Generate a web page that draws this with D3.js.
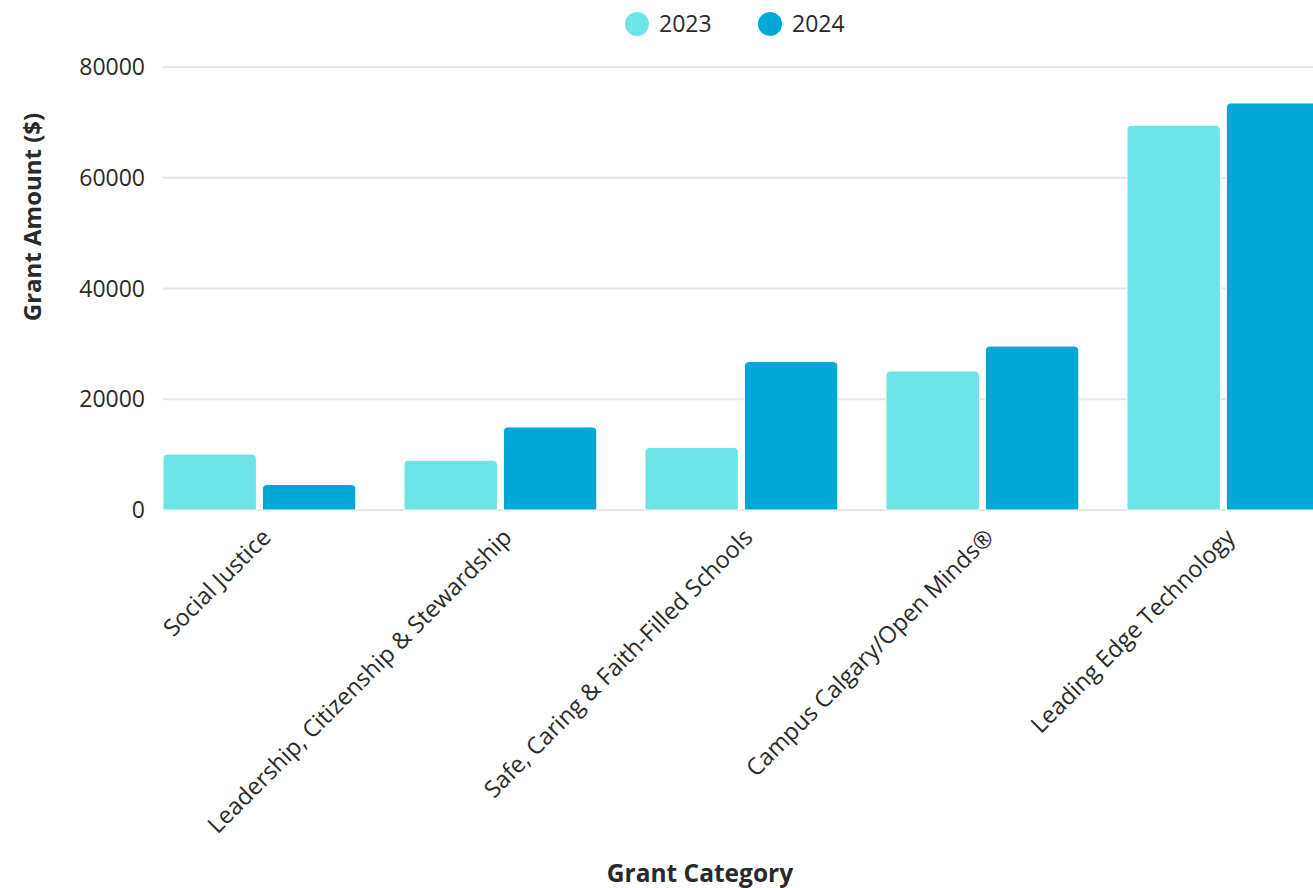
<!DOCTYPE html>
<html><head><meta charset="utf-8">
<script src="https://cdn.jsdelivr.net/npm/d3@7/dist/d3.min.js"></script>
<style>
html,body{margin:0;padding:0;background:#fff;}
svg{display:block;font-family:"Open Sans",sans-serif;}
</style></head>
<body><svg id="chart" width="1313" height="888"></svg>
<script>
const categories = ["Social Justice","Leadership, Citizenship & Stewardship","Safe, Caring & Faith-Filled Schools","Campus Calgary/Open Minds®","Leading Edge Technology"];
const seriesNames = ["2023","2024"];
const values2023 = [10100, 9000, 11300, 25100, 69500];
const values2024 = [4600, 15000, 26800, 29600, 73500];
const yTicks = [0, 20000, 40000, 60000, 80000];
const colors = ["#6de5e6", "#00a8d6"];

const svg = d3.select("#chart");
const left = 163, baseY = 510, topY = 67;
const x0 = d3.scaleBand().domain(categories).range([left, left + 241*4.8]).paddingInner(0.2).paddingOuter(0);
const x1 = d3.scaleBand().domain(seriesNames).range([0, x0.bandwidth()]).paddingInner(0.06);
const y = d3.scaleLinear().domain([0, 80000]).range([baseY, topY]);
const textColor = "#2a2a2a";

// gridlines
svg.append("g").selectAll("line").data(yTicks).join("line")
  .attr("x1", left).attr("x2", 1313)
  .attr("y1", d => y(d)).attr("y2", d => y(d))
  .attr("stroke", "#e6e6e6").attr("stroke-width", 2);

// y tick labels
svg.append("g").selectAll("text").data(yTicks).join("text")
  .attr("x", 145).attr("y", d => y(d)).attr("dy", "0.35em")
  .attr("text-anchor", "end").attr("font-size", 23).attr("fill", textColor)
  .text(d => d);

// bars
function barPath(x, yTop, w, h, r) {
  r = Math.min(r, h, w/2);
  return `M${x},${yTop+h}V${yTop+r}Q${x},${yTop} ${x+r},${yTop}H${x+w-r}Q${x+w},${yTop} ${x+w},${yTop+r}V${yTop+h}Z`;
}
const seriesData = [values2023, values2024];
const g = svg.append("g");
categories.forEach((c, i) => {
  seriesNames.forEach((s, j) => {
    const v = seriesData[j][i];
    const bx = x0(c) + x1(s), bw = x1.bandwidth();
    const yt = y(v);
    g.append("path").attr("d", barPath(bx, yt, bw, baseY - yt, 5))
      .attr("fill", colors[j]).attr("stroke", "#fff").attr("stroke-width", 1);
  });
});

// x labels
svg.append("g").selectAll("text").data(categories).join("text")
  .attr("transform", d => `translate(${x0(d) + x0.bandwidth()/2 + 7},${533}) rotate(-45)`)
  .attr("text-anchor", "end").attr("dy", "0.35em")
  .attr("font-size", 23.5).attr("fill", textColor)
  .text(d => d);

// axis titles
svg.append("text").attr("x", 700).attr("y", 882).attr("text-anchor", "middle")
  .attr("font-size", 24.5).attr("font-weight", "bold").attr("fill", textColor).text("Grant Category");
svg.append("text").attr("transform", "translate(41,217) rotate(-90)").attr("text-anchor", "middle")
  .attr("font-size", 24).attr("font-weight", "bold").attr("fill", textColor).text("Grant Amount ($)");

// legend
const legendX = [637, 770];
const lg = svg.append("g");
seriesNames.forEach((s, j) => {
  lg.append("circle").attr("cx", legendX[j]).attr("cy", 24).attr("r", 12).attr("fill", colors[j]);
  lg.append("text").attr("x", legendX[j] + 22).attr("y", 24).attr("dy", "0.35em")
    .attr("font-size", 23).attr("fill", textColor).text(s);
});
</script></body></html>
